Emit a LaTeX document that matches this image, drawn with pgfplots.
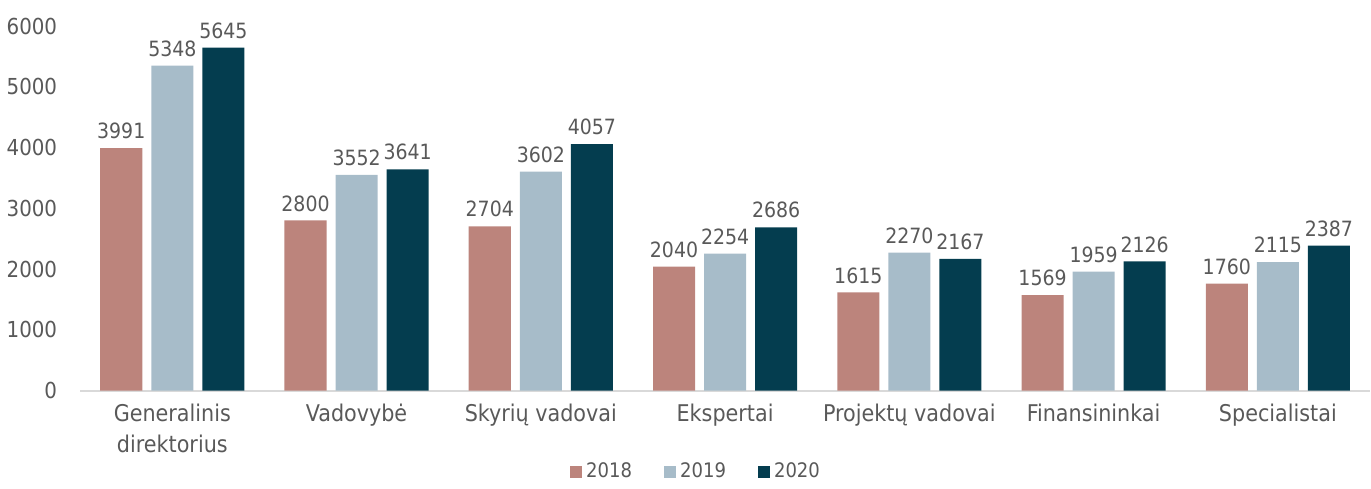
\documentclass[border=0pt]{standalone}
\usepackage{fontspec}
\setmainfont{DejaVu Sans Condensed}
\usepackage{pgfplots}
\pgfplotsset{compat=1.18}
\definecolor{c18}{HTML}{BC847C}
\definecolor{c19}{HTML}{A7BCC9}
\definecolor{c20}{HTML}{043D4F}
\definecolor{txt}{HTML}{595959}
\definecolor{axl}{HTML}{D9D9D9}

\begin{document}
\begin{tikzpicture}
\begin{axis}[
  scale only axis,
  width=644pt, height=182pt,
  ybar=4.5pt, bar width=21pt,
  xmin=-0.5, xmax=6.5,
  ymin=0, ymax=6000,
  xtick={0,...,6},
  xticklabels={{Generalinis\\direktorius}, Vadovybė, Skyrių vadovai, Ekspertai, Projektų vadovai, Finansininkai, Specialistai},
  xticklabel style={align=center, font=\fontsize{11.5}{15.5}\selectfont, text=txt, yshift=-3pt},
  ytick={0,1000,...,6000},
  yticklabel style={font=\fontsize{11}{12}\selectfont, text=txt, xshift=-8pt},
  /pgf/number format/assume math mode=true,
  /pgf/number format/1000 sep={},
  axis x line*=bottom,
  axis y line*=left,
  x axis line style={draw=axl, line width=1pt, -},
  y axis line style={draw=none},
  major tick length=0pt,
  tick style={draw=none},
  nodes near coords,
  every node near coord/.append style={font=\fontsize{10.5}{12}\selectfont, text=txt, yshift=1pt},
  legend style={at={(0.5,-0.175)}, xshift=-14pt, anchor=north, legend columns=3, draw=none,
                font=\fontsize{10}{11}\selectfont, text=txt,
                /tikz/every even column/.append style={column sep=14pt}},
  legend image code/.code={\fill[#1] (0pt,-3pt) rectangle (6pt,3pt);},
]
\addplot[fill=c18, draw=none] coordinates {(0,3991) (1,2800) (2,2704) (3,2040) (4,1615) (5,1569) (6,1760)};
\addplot[fill=c19, draw=none] coordinates {(0,5348) (1,3552) (2,3602) (3,2254) (4,2270) (5,1959) (6,2115)};
\addplot[fill=c20, draw=none] coordinates {(0,5645) (1,3641) (2,4057) (3,2686) (4,2167) (5,2126) (6,2387)};
\legend{2018, 2019, 2020}
\end{axis}
\path ([yshift=13pt]current axis.north west);
\end{tikzpicture}
\end{document}
